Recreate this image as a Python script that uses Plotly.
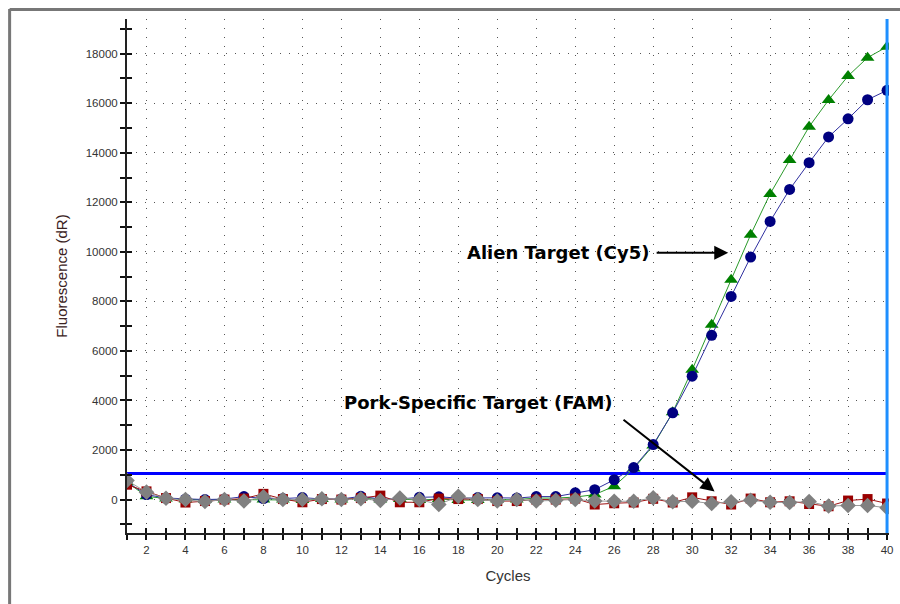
import plotly.graph_objects as go

# ---------------- data ----------------
cycles = list(range(1, 41))

alien_blue = [700, 200, 60, 20, 0, 20, 120, 40, 40, 80,
              20, 20, 130, 20, 20, 90, 110, 60, 80, 70,
              60, 120, 120, 270, 400, 800, 1290, 2220, 3500, 4980,
              6630, 8200, 9790, 11230, 12520, 13600, 14640, 15370, 16140, 16520]

alien_green = [700, 130, 40, 0, -20, 0, 0, 0, 0, -20,
               20, 0, 60, 0, 20, -20, 20, -20, -20, 0,
               0, 60, 60, 100, 200, 540, 1250, 2180, 3520, 5240,
               7060, 8870, 10690, 12340, 13710, 15050, 16130, 17100, 17840, 18280]

pork_red = [600, 330, 60, -120, -60, 0, 40, 230, 20, -110,
            20, 0, 60, 160, -110, -110, 40, 20, 20, -60,
            -60, 0, 0, 40, -200, -150, -120, 30, -120, 90,
            -70, -200, 40, -110, -70, -180, -270, -40, 20, -160]

pork_gray = [770, 300, 50, 0, -80, 0, -60, 110, 0, 0,
             30, 0, 30, -40, 60, 0, -200, 130, 0, -60,
             0, -60, -30, 0, -60, -70, -70, 70, -90, -70,
             -160, -90, -30, -110, -120, -80, -260, -240, -240, -330]

threshold = 1050
x_ticks = list(range(2, 41, 2))
y_ticks = list(range(0, 18001, 2000))

alien_label = "Alien Target (Cy5)"
pork_label = "Pork-Specific Target (FAM)"

# ---------------- layout constants ----------------
W, H = 900, 604
ML, MR, MT, MB = 127, 7, 19, 71
PW, PH = W - ML - MR, H - MT - MB
X_RANGE = [1, 40.1]
Y_RANGE = [-1350, 19400]


def px_x(p):
    return (p - ML) / PW


def px_y(p):
    return 1 - (p - MT) / PH


fig = go.Figure()

# threshold line
fig.add_trace(go.Scatter(x=[cycles[0], cycles[-1]], y=[threshold, threshold],
                         mode="lines", line=dict(color="#0000ff", width=3),
                         hoverinfo="skip", showlegend=False))

series = [
    (alien_green, "#008000", "#2a9a2a", "triangle-up", 12),
    (alien_blue, "#000080", "#3030a0", "circle", 11),
    (pork_red, "#990000", "#a01010", "square", 10),
    (pork_gray, "#808080", "#9a9a9a", "diamond", 12),
]
for ys, mcol, lcol, sym, size in series:
    fig.add_trace(go.Scatter(x=cycles, y=ys, mode="lines+markers",
                             line=dict(color=lcol, width=1),
                             marker=dict(symbol=sym, size=size, color=mcol,
                                         line=dict(width=0)),
                             showlegend=False))

# helper trace for inside tick overlay axes
fig.add_trace(go.Scatter(x=[None], y=[None], xaxis="x2", yaxis="y2",
                         showlegend=False, hoverinfo="skip"))

tick_font = dict(family="Liberation Sans, Arial, sans-serif", size=11.5, color="#333")
title_font = dict(family="Liberation Sans, Arial, sans-serif", size=15, color="#333")
ytitle_font = dict(family="Liberation Sans, Arial, sans-serif", size=15, color="#3a2222")
grid_dash = "1px,8px"

fig.update_layout(
    width=W, height=H,
    margin=dict(l=ML, r=MR, t=MT, b=MB),
    paper_bgcolor="white", plot_bgcolor="white",
    showlegend=False,
    xaxis=dict(range=X_RANGE, tickmode="array", tickvals=x_ticks,
               ticktext=[str(v) for v in x_ticks],
               ticks="outside", ticklen=5, tickwidth=1.5, tickcolor="#111",
               minor=dict(dtick=1, tick0=1, ticks="outside", ticklen=5,
                          tickwidth=1.5, tickcolor="#111", showgrid=False),
               showline=True, linecolor="#222", linewidth=2,
               showgrid=True, gridcolor="#555", gridwidth=1, griddash=grid_dash,
               zeroline=False, tickfont=tick_font,
               title=dict(text="Cycles", font=title_font, standoff=16)),
    yaxis=dict(range=Y_RANGE, tickmode="array", tickvals=y_ticks,
               ticktext=[str(v) for v in y_ticks],
               ticks="outside", ticklen=5, tickwidth=1.5, tickcolor="#111",
               minor=dict(dtick=1000, tick0=0, ticks="outside", ticklen=5,
                          tickwidth=1.5, tickcolor="#111", showgrid=False),
               showline=True, linecolor="#222", linewidth=2,
               showgrid=True, gridcolor="#555", gridwidth=1, griddash=grid_dash,
               zeroline=False, tickfont=tick_font,
               title=dict(text="Fluorescence (dR)", font=ytitle_font, standoff=14)),
    xaxis2=dict(range=X_RANGE, overlaying="x", anchor="y2", side="bottom",
                tickmode="linear", tick0=1, dtick=1, ticks="inside", ticklen=5,
                tickwidth=1.5, tickcolor="#111", showticklabels=False,
                showgrid=False, showline=False, zeroline=False),
    yaxis2=dict(range=Y_RANGE, overlaying="y", anchor="x2", side="left",
                tickmode="linear", tick0=0, dtick=1000, ticks="inside", ticklen=5,
                tickwidth=1.5, tickcolor="#111", showticklabels=False,
                showgrid=False, showline=False, zeroline=False),
)

# vertical cycle marker at last cycle
fig.add_shape(type="line", xref="x", yref="paper", x0=cycles[-1], x1=cycles[-1],
              y0=0, y1=1, line=dict(color="#1e8fff", width=3), layer="above")

# outer frame (left and top edges)
frame_col = "#777777"
fig.add_shape(type="line", xref="paper", yref="paper",
              x0=px_x(9), x1=px_x(9), y0=px_y(9), y1=px_y(H + 5),
              line=dict(color=frame_col, width=3))
fig.add_shape(type="line", xref="paper", yref="paper",
              x0=px_x(9), x1=px_x(W + 5), y0=px_y(9.5), y1=px_y(9.5),
              line=dict(color=frame_col, width=3))

ann_font = dict(family="DejaVu Sans, sans-serif", size=18, color="black")

# labels
fig.add_annotation(text="<b>%s</b>" % alien_label, xref="paper", yref="paper",
                   x=px_x(560), y=px_y(253), showarrow=False, font=ann_font)
fig.add_annotation(text="<b>%s</b>" % pork_label, xref="paper", yref="paper",
                   x=px_x(480), y=px_y(415), showarrow=False, font=ann_font)

# arrows
fig.add_annotation(text="", x=31.85, y=9960, ax=28.1, ay=9960,
                   xref="x", yref="y", axref="x", ayref="y",
                   showarrow=True, arrowhead=2, arrowsize=1.4, arrowwidth=2,
                   arrowcolor="black")
fig.add_annotation(text="", x=31.15, y=330, ax=26.4, ay=3270,
                   xref="x", yref="y", axref="x", ayref="y",
                   showarrow=True, arrowhead=2, arrowsize=1.4, arrowwidth=2,
                   arrowcolor="black")

fig.write_html("out.html",
               config={"displayModeBar": False},
               post_script="document.body.style.margin='0';"
                           "document.body.style.overflow='hidden';")
